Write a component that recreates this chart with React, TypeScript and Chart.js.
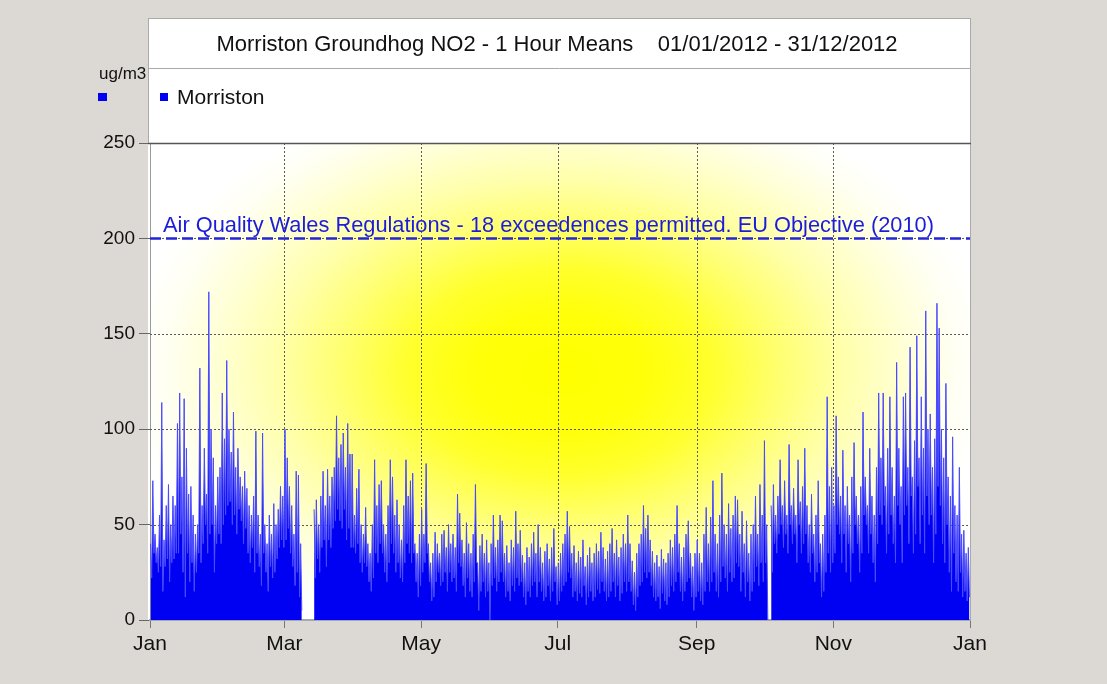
import { useEffect, useRef } from 'react';
import { Chart, registerables } from 'chart.js';

Chart.register(...registerables);

// ---- Data (daily peak / trough of hourly NO2 means, ug/m3) ----
const janHigh = [40,73,45,38,55,114,42,60,71,50,65,60,103,119,75,116,90,66,70,55,45,50,132,60,90,66,172,100,85,60,75];
const janLow = [22,35,30,25,28,15,28,32,20,30,32,35,35,45,25,12,35,20,30,15,25,35,30,40,50,35,45,50,25,40,45];
const febHigh = [80,119,95,136,100,88,109,80,90,75,70,78,69,60,55,65,99,55,45,98,50,40,55,45,61,50,58,70,65];
const febLow = [40,50,55,60,62,50,55,45,58,52,40,48,35,30,38,25,35,28,18,35,25,15,28,22,25,32,38,42,38];
const marHigh = [100,85,70,60,45,78,76,40,null,null,null,null,null,58,63,50,65,78,60,79,65,75,80,107,85,92,98,80,103,87,87];
const marLow = [42,48,35,28,18,25,12,5,null,null,null,null,null,22,32,25,38,42,28,42,38,48,52,58,52,48,58,42,48,38,38];
const aprHigh = [55,69,79,50,45,59,40,35,50,84,60,71,73,50,45,60,84,75,55,63,50,42,60,84,65,73,77,40,35,45];
const aprLow = [35,40,30,25,30,28,20,15,22,35,30,40,35,25,20,30,40,35,25,30,22,20,30,40,35,30,35,20,12,18];
const mayHigh = [58,45,82,40,30,35,46,40,35,45,47,38,50,40,45,38,66,56,42,35,51,40,35,45,71,30,39,45,35,42,30];
const mayLow = [25,30,35,20,10,12,20,25,18,20,25,15,25,20,22,15,30,28,18,12,22,15,12,20,30,5,15,20,12,15,0];
const junHigh = [40,55,38,42,55,52,35,39,30,42,38,57,40,47,34,30,38,33,40,46,35,50,38,30,36,40,32,38,48,28];
const junLow = [18,22,15,20,25,20,12,15,10,18,15,22,18,20,12,8,15,12,18,20,12,20,15,10,12,18,10,15,20,8];
const julHigh = [30,35,40,45,57,49,35,39,30,36,33,42,28,34,38,30,35,40,36,46,38,32,36,40,48,35,42,33,38,45,40];
const julLow = [10,15,18,20,25,22,12,15,10,14,12,18,8,12,15,10,12,16,14,20,15,10,12,15,20,12,18,10,14,20,15];
const augHigh = [55,40,31,25,35,40,45,60,48,55,42,36,30,34,28,37,32,30,35,42,38,45,60,40,33,38,45,52,35,28,35];
const augLow = [20,15,8,5,12,18,20,25,22,25,18,12,10,12,6,14,10,8,12,18,15,20,25,15,10,15,20,22,12,5,12];
const sepHigh = [42,35,30,45,59,40,54,73,45,40,55,77,50,45,61,48,55,65,63,45,57,40,52,35,45,50,65,45,71,55];
const sepLow = [15,10,8,15,20,15,20,25,15,12,20,28,22,15,25,20,22,30,28,15,25,12,20,10,15,20,28,18,30,20];
const octHigh = [94,50,null,60,71,55,65,84,60,73,55,92,60,69,55,84,62,70,90,60,50,66,45,55,73,40,45,55,117,70,80];
const octLow = [30,0,null,25,40,35,45,50,38,45,35,50,40,45,30,50,35,40,45,30,25,35,20,25,30,12,15,25,35,25,30];
const novHigh = [60,107,75,65,89,60,70,55,75,93,65,55,70,109,75,60,90,65,55,80,119,85,119,70,90,117,80,65,135,90];
const novLow = [35,50,45,30,45,25,40,20,35,50,40,25,35,55,50,35,45,30,20,40,55,50,60,35,45,55,40,30,60,50];
const decHigh = [70,117,119,80,143,75,94,149,85,117,90,162,100,108,80,95,166,153,100,85,124,75,65,96,60,55,80,45,47,35,38];
const decLow = [30,55,60,40,65,35,45,70,40,55,35,65,50,55,30,45,70,60,40,30,50,25,15,35,20,15,25,12,15,10,12];

const monthTicks = [0, 60, 121, 182, 244, 305, 366];
const monthTickLabels = ['Jan', 'Mar', 'May', 'Jul', 'Sep', 'Nov', 'Jan'];
const yTicks = [0, 50, 100, 150, 200, 250];
const limitValue = 200;
const limitLabel = 'Air Quality Wales Regulations - 18 exceedences permitted. EU Objective (2010)';
const titleText = 'Morriston Groundhog NO2 - 1 Hour Means    01/01/2012 - 31/12/2012';
const seriesName = 'Morriston';
const unitLabel = 'ug/m3';

const dailyHigh = [...janHigh, ...febHigh, ...marHigh, ...aprHigh, ...mayHigh, ...junHigh,
  ...julHigh, ...augHigh, ...sepHigh, ...octHigh, ...novHigh, ...decHigh];
const dailyLow = [...janLow, ...febLow, ...marLow, ...aprLow, ...mayLow, ...junLow,
  ...julLow, ...augLow, ...sepLow, ...octLow, ...novLow, ...decLow];

const FONT = "'Liberation Sans', Arial, sans-serif";
const BLUE = '#0000f2';

const decorPlugin = {
  id: 'decor',
  beforeDraw(chart: any) {
    const { ctx, chartArea: a } = chart;
    ctx.save();
    ctx.fillStyle = '#dcd9d4';
    ctx.fillRect(0, 0, chart.width, chart.height);
    const pl = a.left - 2;
    const pr = a.right + 1;
    ctx.fillStyle = '#ffffff';
    ctx.fillRect(pl, 18, pr - pl, a.top - 18);
    ctx.fillRect(pl, a.top, pr - pl, a.bottom - a.top);
    // radial yellow glow
    const cx = a.left + a.width * 0.5;
    const cy = a.top + a.height * 0.48;
    const rx = a.width * 0.53;
    const ry = a.height * 0.62;
    ctx.save();
    ctx.beginPath();
    ctx.rect(a.left, a.top, a.width, a.height);
    ctx.clip();
    ctx.translate(cx, cy);
    ctx.scale(1, ry / rx);
    const g = ctx.createRadialGradient(0, 0, 0, 0, 0, rx);
    g.addColorStop(0, 'rgb(255,255,0)');
    g.addColorStop(0.2, 'rgb(255,255,10)');
    g.addColorStop(0.35, 'rgb(255,255,45)');
    g.addColorStop(0.5, 'rgb(255,255,110)');
    g.addColorStop(0.65, 'rgb(255,255,170)');
    g.addColorStop(0.8, 'rgb(255,255,215)');
    g.addColorStop(0.92, 'rgb(255,255,245)');
    g.addColorStop(1, 'rgb(255,255,255)');
    ctx.fillStyle = g;
    ctx.fillRect(-rx * 1.2, -rx * 1.5, rx * 2.4, rx * 3);
    ctx.restore();
    // header borders
    ctx.strokeStyle = '#a9a9a9';
    ctx.lineWidth = 1;
    ctx.strokeRect(pl + 0.5, 18.5, pr - pl - 1, a.top - 18);
    ctx.beginPath();
    ctx.moveTo(pl, 68.5);
    ctx.lineTo(pr, 68.5);
    ctx.stroke();
    ctx.beginPath();
    ctx.moveTo(pr - 0.5, a.top);
    ctx.lineTo(pr - 0.5, a.bottom);
    ctx.stroke();
    // title
    ctx.fillStyle = '#111';
    ctx.font = `22px ${FONT}`;
    ctx.textAlign = 'center';
    ctx.textBaseline = 'middle';
    ctx.fillText(titleText, 557, 45);
    // legend
    ctx.textAlign = 'left';
    ctx.fillStyle = BLUE;
    ctx.fillRect(160, 93, 8, 8);
    ctx.fillStyle = '#111';
    ctx.font = `21px ${FONT}`;
    ctx.fillText(seriesName, 177, 98);
    // unit label
    ctx.font = `17px ${FONT}`;
    ctx.fillText(unitLabel, 99, 74);
    ctx.fillStyle = BLUE;
    ctx.fillRect(98, 93, 9, 8);
    ctx.restore();
  },
  beforeDatasetsDraw(chart: any) {
    const { ctx, chartArea: a, scales } = chart;
    ctx.save();
    ctx.strokeStyle = '#5a5a5a';
    ctx.lineWidth = 1;
    ctx.setLineDash([2, 2]);
    monthTicks.slice(1, -1).forEach((v) => {
      const x = Math.round(scales.x.getPixelForValue(v)) + 0.5;
      ctx.beginPath();
      ctx.moveTo(x, a.top);
      ctx.lineTo(x, a.bottom);
      ctx.stroke();
    });
    yTicks.slice(1, -1).forEach((v) => {
      const y = Math.round(scales.y.getPixelForValue(v)) + 0.5;
      ctx.beginPath();
      ctx.moveTo(a.left, y);
      ctx.lineTo(a.right, y);
      ctx.stroke();
    });
    ctx.restore();
  },
  afterDatasetsDraw(chart: any) {
    const { ctx, chartArea: a, scales } = chart;
    ctx.save();
    const y = scales.y.getPixelForValue(limitValue);
    ctx.fillStyle = '#1c1cdc';
    ctx.font = `21.8px ${FONT}`;
    ctx.textAlign = 'left';
    ctx.textBaseline = 'alphabetic';
    ctx.fillText(limitLabel, a.left + 13, y - 6);
    ctx.strokeStyle = '#555';
    ctx.lineWidth = 1.5;
    ctx.beginPath();
    ctx.moveTo(a.left - 2, a.top + 0.5);
    ctx.lineTo(a.right + 1, a.top + 0.5);
    ctx.stroke();
    ctx.restore();
  },
};

export default function App() {
  const ref = useRef<HTMLCanvasElement | null>(null);
  useEffect(() => {
    if (!ref.current) return;
    Chart.defaults.font.family = FONT;
    const points: { x: number; y: number | null }[] = [];
    dailyHigh.forEach((h, d) => {
      const l = dailyLow[d];
      if (h == null || l == null) {
        points.push({ x: d + 0.5, y: null });
        return;
      }
      points.push({ x: d + 0.25, y: h }, { x: d + 0.75, y: l });
    });
    const chart = new Chart(ref.current, {
      type: 'line',
      data: {
        datasets: [
          {
            label: seriesName,
            data: points,
            fill: 'origin',
            backgroundColor: BLUE,
            borderColor: '#4a4aff',
            borderWidth: 1,
            pointRadius: 0,
            tension: 0,
            spanGaps: false,
          },
          {
            label: 'limit',
            data: [{ x: 0, y: limitValue }, { x: 366, y: limitValue }],
            borderColor: '#2424d8',
            borderWidth: 2.5,
            borderDash: [11, 5],
            pointRadius: 0,
            fill: false,
          },
        ],
      },
      options: {
        animation: false,
        responsive: false,
        events: [],
        layout: { padding: { left: 0, top: 143, right: 137, bottom: 0 } },
        plugins: {
          legend: { display: false },
          title: { display: false },
          tooltip: { enabled: false },
        },
        scales: {
          x: {
            type: 'linear',
            min: 0,
            max: 366,
            afterBuildTicks: (s: any) => {
              s.ticks = monthTicks.map((v) => ({ value: v }));
            },
            afterFit: (s: any) => {
              s.height = 64;
            },
            ticks: {
              autoSkip: false,
              maxRotation: 0,
              color: '#111',
              font: { size: 21 },
              padding: 4,
              callback: (_v: any, i: number) => monthTickLabels[i],
            },
            grid: { drawOnChartArea: false, drawTicks: true, tickLength: 8, color: '#777' },
            border: { display: true, color: '#a3a7b8', width: 2 },
          },
          y: {
            type: 'linear',
            min: 0,
            max: 250,
            afterBuildTicks: (s: any) => {
              s.ticks = yTicks.map((v) => ({ value: v }));
            },
            afterFit: (s: any) => {
              s.width = 150;
            },
            ticks: { color: '#111', font: { size: 19 }, padding: 4 },
            grid: { drawOnChartArea: false, drawTicks: true, tickLength: 11, color: '#666' },
            border: { display: true, color: '#9a9a9a', width: 1 },
          },
        },
      },
      plugins: [decorPlugin],
    });
    return () => chart.destroy();
  }, []);
  return (
    <div style={{ position: 'fixed', left: 0, top: 0, width: 1107, height: 684, background: '#dcd9d4' }}>
      <canvas ref={ref} width={1107} height={684} style={{ display: 'block' }} />
    </div>
  );
}
